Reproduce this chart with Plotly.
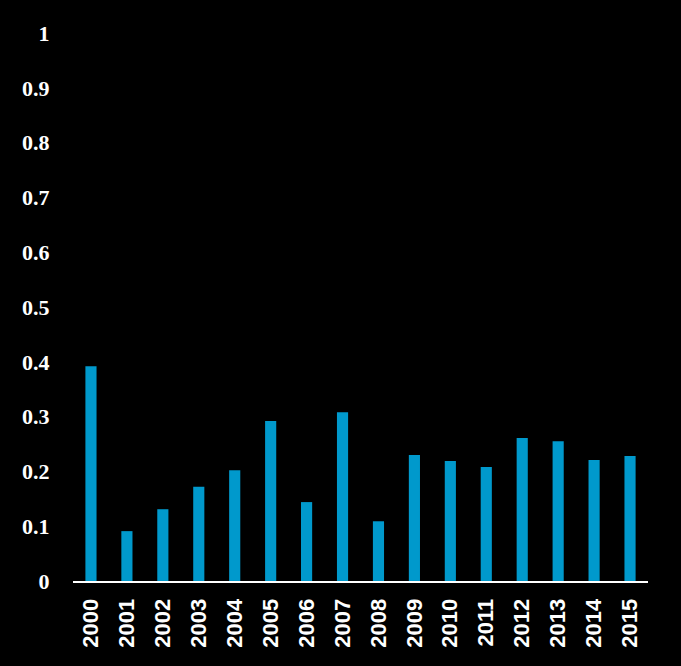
import plotly.graph_objects as go

years = [str(y) for y in range(2000, 2016)]
values = [0.392, 0.091, 0.131, 0.172, 0.202, 0.292, 0.144, 0.308,
          0.109, 0.230, 0.219, 0.208, 0.261, 0.255, 0.221, 0.228]
y_ticks = [0, 0.1, 0.2, 0.3, 0.4, 0.5, 0.6, 0.7, 0.8, 0.9, 1]
y_tick_text = ["0", "0.1", "0.2", "0.3", "0.4", "0.5", "0.6", "0.7", "0.8", "0.9", "1"]

fig = go.Figure(go.Bar(x=years, y=values, marker=dict(color="#0099CC", line=dict(width=0))))

fig.update_layout(
    width=681, height=666,
    paper_bgcolor="black", plot_bgcolor="black",
    margin=dict(l=73, r=33, t=33, b=85),
    bargap=0.69,
    showlegend=False,
)
fig.update_xaxes(
    type="category",
    tickangle=-90,
    tickfont=dict(family="Liberation Sans", size=22, color="white", weight="bold"),
    showline=True, linecolor="white", linewidth=2,
    ticks="outside", ticklen=7, tickcolor="rgba(0,0,0,0)",
    showgrid=False, zeroline=False,
)
fig.update_yaxes(
    range=[0, 1],
    tickvals=y_ticks, ticktext=y_tick_text,
    tickfont=dict(family="Liberation Serif", size=22, color="white", weight="bold"),
    showline=False, showgrid=False, zeroline=False,
    ticks="outside", ticklen=18, tickcolor="rgba(0,0,0,0)",
)

fig.write_html(
    "out.html",
    config={"displayModeBar": False},
    post_script="document.body.style.margin='0';document.body.style.padding='0';document.body.style.background='black';",
)
